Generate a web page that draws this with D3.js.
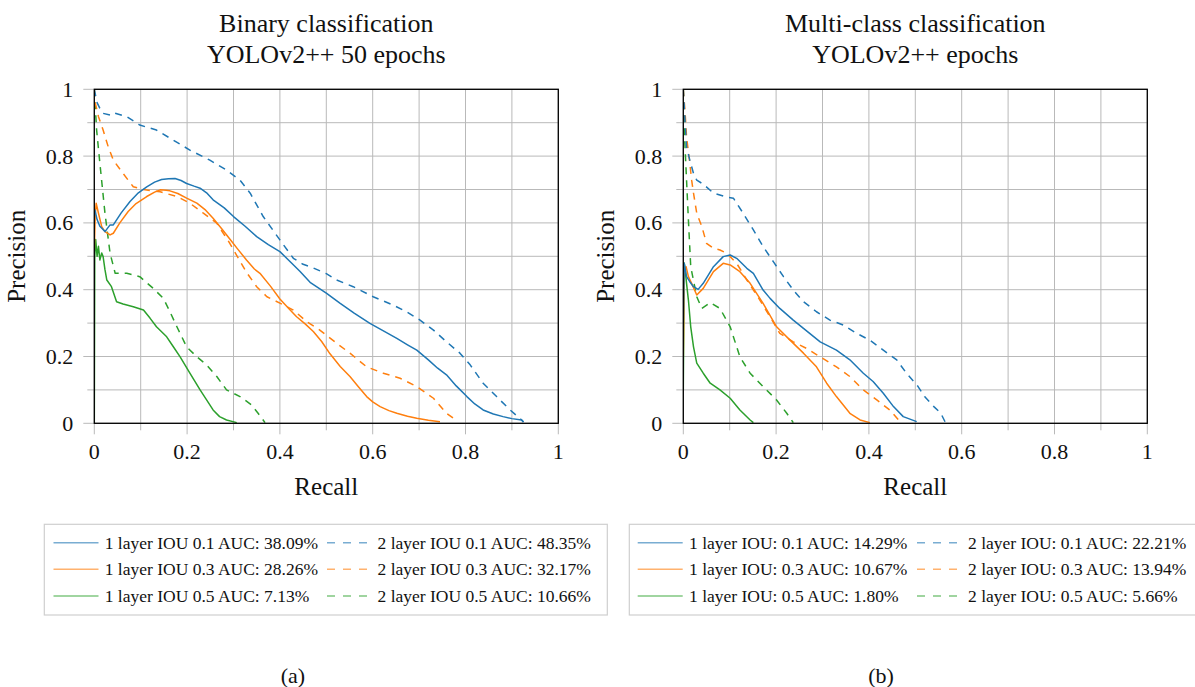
<!DOCTYPE html>
<html>
<head>
<meta charset="utf-8">
<script src="https://cdn.jsdelivr.net/npm/d3@7"></script>
<style>
  html, body { margin: 0; padding: 0; background: #fff; }
  svg { display: block; }
  text { font-family: "Liberation Serif", "Times New Roman", serif; fill: #111; }
</style>
</head>
<body>
<svg id="fig" width="1195" height="687"></svg>
<script>
// ---- Binary classification, YOLOv2++ 50 epochs: [recall, precision] ----
const bin1L_iou01 = [[0.001,0.64],[0.006,0.61],[0.012,0.59],[0.023,0.574],[0.034,0.594],[0.041,0.594],[0.058,0.63],[0.077,0.664],[0.095,0.69],[0.113,0.708],[0.13,0.722],[0.145,0.730],[0.16,0.732],[0.174,0.733],[0.187,0.727],[0.199,0.718],[0.215,0.71],[0.228,0.704],[0.242,0.69],[0.256,0.669],[0.28,0.645],[0.30,0.619],[0.325,0.59],[0.35,0.559],[0.375,0.535],[0.40,0.514],[0.425,0.48],[0.443,0.455],[0.465,0.422],[0.50,0.39],[0.53,0.359],[0.56,0.33],[0.594,0.299],[0.625,0.275],[0.652,0.254],[0.675,0.235],[0.695,0.219],[0.72,0.19],[0.74,0.165],[0.759,0.145],[0.78,0.112],[0.803,0.080],[0.82,0.058],[0.838,0.040],[0.86,0.028],[0.881,0.020],[0.90,0.014],[0.921,0.010],[0.925,0.004]];
const bin1L_iou03 = [[0,0.52],[0.002,0.62],[0.004,0.659],[0.009,0.629],[0.016,0.589],[0.023,0.574],[0.034,0.564],[0.041,0.569],[0.055,0.6],[0.073,0.634],[0.09,0.658],[0.113,0.679],[0.13,0.692],[0.142,0.699],[0.155,0.698],[0.163,0.696],[0.18,0.688],[0.199,0.674],[0.221,0.659],[0.24,0.638],[0.256,0.614],[0.275,0.582],[0.292,0.552],[0.31,0.52],[0.328,0.489],[0.345,0.462],[0.357,0.449],[0.38,0.41],[0.40,0.372],[0.42,0.342],[0.436,0.319],[0.455,0.297],[0.472,0.275],[0.49,0.245],[0.508,0.208],[0.53,0.17],[0.551,0.140],[0.57,0.108],[0.587,0.080],[0.60,0.064],[0.616,0.050],[0.635,0.038],[0.652,0.030],[0.675,0.021],[0.695,0.015],[0.72,0.009],[0.745,0.005]];
const bin1L_iou05 = [[0,0.0],[0.001,0.5],[0.003,0.55],[0.006,0.5],[0.009,0.53],[0.012,0.489],[0.016,0.51],[0.019,0.499],[0.023,0.46],[0.027,0.429],[0.037,0.409],[0.048,0.364],[0.062,0.357],[0.084,0.349],[0.106,0.339],[0.12,0.315],[0.134,0.289],[0.156,0.259],[0.17,0.23],[0.185,0.199],[0.206,0.150],[0.228,0.100],[0.256,0.040],[0.27,0.02],[0.285,0.010],[0.307,0.002]];
const bin2L_iou01 = [[0,1.0],[0.006,0.96],[0.012,0.943],[0.019,0.928],[0.034,0.923],[0.041,0.930],[0.07,0.918],[0.098,0.893],[0.134,0.878],[0.17,0.848],[0.206,0.818],[0.249,0.788],[0.285,0.758],[0.314,0.728],[0.336,0.689],[0.364,0.619],[0.40,0.549],[0.429,0.494],[0.45,0.476],[0.472,0.465],[0.50,0.448],[0.522,0.429],[0.558,0.409],[0.601,0.379],[0.644,0.354],[0.673,0.334],[0.702,0.309],[0.731,0.279],[0.759,0.244],[0.788,0.210],[0.81,0.175],[0.838,0.120],[0.867,0.080],[0.896,0.040],[0.921,0.010],[0.925,0.004]];
const bin2L_iou03 = [[0,1.0],[0.002,0.96],[0.009,0.918],[0.019,0.878],[0.030,0.828],[0.041,0.788],[0.062,0.748],[0.084,0.708],[0.106,0.700],[0.142,0.693],[0.178,0.679],[0.206,0.659],[0.235,0.629],[0.264,0.599],[0.292,0.539],[0.31,0.495],[0.328,0.452],[0.35,0.409],[0.372,0.379],[0.40,0.36],[0.429,0.339],[0.458,0.304],[0.486,0.279],[0.522,0.240],[0.551,0.210],[0.587,0.169],[0.623,0.150],[0.659,0.135],[0.695,0.110],[0.731,0.075],[0.759,0.030],[0.774,0.015],[0.777,0.002]];
const bin2L_iou05 = [[0,1.0],[0.002,0.95],[0.005,0.878],[0.012,0.779],[0.023,0.629],[0.034,0.509],[0.045,0.449],[0.07,0.449],[0.098,0.439],[0.127,0.404],[0.149,0.374],[0.163,0.334],[0.178,0.289],[0.199,0.229],[0.221,0.199],[0.242,0.175],[0.264,0.140],[0.285,0.100],[0.314,0.080],[0.339,0.055],[0.353,0.030],[0.368,0.002]];

// ---- Multi-class classification, YOLOv2++ epochs: [recall, precision] ----
const multi1L_iou01 = [[0,0.3],[0.002,0.479],[0.007,0.439],[0.014,0.424],[0.022,0.409],[0.032,0.401],[0.043,0.419],[0.065,0.469],[0.086,0.499],[0.101,0.504],[0.115,0.494],[0.137,0.464],[0.151,0.449],[0.172,0.399],[0.187,0.374],[0.208,0.344],[0.237,0.309],[0.259,0.284],[0.295,0.244],[0.33,0.219],[0.359,0.190],[0.388,0.150],[0.409,0.125],[0.431,0.090],[0.453,0.050],[0.474,0.020],[0.503,0.005]];
const multi1L_iou03 = [[0,0.2],[0.002,0.45],[0.006,0.469],[0.011,0.439],[0.018,0.419],[0.029,0.384],[0.043,0.404],[0.065,0.454],[0.086,0.479],[0.101,0.474],[0.122,0.454],[0.144,0.419],[0.172,0.359],[0.201,0.289],[0.23,0.249],[0.259,0.210],[0.287,0.169],[0.309,0.120],[0.33,0.080],[0.359,0.030],[0.381,0.010],[0.402,0.002]];
const multi1L_iou05 = [[0,0.1],[0.002,0.48],[0.004,0.46],[0.007,0.419],[0.011,0.369],[0.016,0.289],[0.022,0.229],[0.029,0.180],[0.043,0.150],[0.058,0.120],[0.079,0.100],[0.101,0.075],[0.122,0.040],[0.144,0.010],[0.151,0.002]];
const multi2L_iou01 = [[0,1.0],[0.004,0.9],[0.007,0.828],[0.014,0.788],[0.022,0.748],[0.029,0.728],[0.043,0.716],[0.065,0.689],[0.094,0.677],[0.108,0.674],[0.129,0.629],[0.151,0.579],[0.172,0.529],[0.194,0.484],[0.216,0.439],[0.237,0.399],[0.259,0.364],[0.287,0.334],[0.316,0.309],[0.345,0.294],[0.374,0.269],[0.402,0.249],[0.431,0.219],[0.46,0.190],[0.481,0.150],[0.506,0.110],[0.52,0.08],[0.54,0.05],[0.555,0.03],[0.565,0.002]];
const multi2L_iou03 = [[0,1.0],[0.004,0.928],[0.007,0.858],[0.014,0.779],[0.018,0.728],[0.022,0.689],[0.029,0.629],[0.04,0.589],[0.05,0.539],[0.065,0.524],[0.079,0.519],[0.094,0.509],[0.115,0.479],[0.137,0.429],[0.165,0.369],[0.187,0.319],[0.208,0.269],[0.237,0.244],[0.266,0.224],[0.295,0.199],[0.33,0.169],[0.359,0.140],[0.388,0.100],[0.417,0.070],[0.445,0.040],[0.467,0.005]];
const multi2L_iou05 = [[0,1.0],[0.003,0.85],[0.007,0.728],[0.011,0.609],[0.016,0.469],[0.029,0.379],[0.04,0.344],[0.058,0.361],[0.079,0.344],[0.101,0.289],[0.122,0.199],[0.144,0.150],[0.172,0.110],[0.201,0.070],[0.223,0.030],[0.237,0.002]];

// ---- Labels ----
const binaryTitle = ["Binary classification", "YOLOv2++ 50 epochs"];
const multiTitle = ["Multi-class classification", "YOLOv2++ epochs"];
const binaryLegend = ["1 layer IOU 0.1 AUC: 38.09%", "2 layer IOU 0.1 AUC: 48.35%",
                      "1 layer IOU 0.3 AUC: 28.26%", "2 layer IOU 0.3 AUC: 32.17%",
                      "1 layer IOU 0.5 AUC: 7.13%",  "2 layer IOU 0.5 AUC: 10.66%"];
const multiLegend = ["1 layer IOU: 0.1 AUC: 14.29%", "2 layer IOU: 0.1 AUC: 22.21%",
                     "1 layer IOU: 0.3 AUC: 10.67%", "2 layer IOU: 0.3 AUC: 13.94%",
                     "1 layer IOU: 0.5 AUC: 1.80%",  "2 layer IOU: 0.5 AUC: 5.66%"];
const majorTicks = [0, 0.2, 0.4, 0.6, 0.8, 1];
const minorTicks = [0.1, 0.3, 0.5, 0.7, 0.9];
const tickLabel = d => (d === 0 || d === 1) ? String(d) : d.toFixed(1);
const colors = ["#1f77b4", "#ff7f0e", "#2ca02c"];
const DASH = "7,6";

const svg = d3.select("#fig");

function panel(cfg) {
  const x = d3.scaleLinear().domain([0, 1]).range([cfg.left, cfg.left + 464]);
  const y = d3.scaleLinear().domain([0, 1]).range([423.3, 89.3]);
  const g = svg.append("g");
  const clipId = "clip-" + cfg.id;
  g.append("clipPath").attr("id", clipId).append("rect")
    .attr("x", x(0)).attr("y", y(1)).attr("width", x(1) - x(0)).attr("height", y(0) - y(1));

  // grid lines, extended outside the frame as tick marks
  const gridColor = "#b9b9b9";
  const all = majorTicks.concat(minorTicks);
  g.selectAll(".vg").data(all).join("line")
    .attr("x1", d => x(d)).attr("x2", d => x(d))
    .attr("y1", y(1)).attr("y2", d => y(0) + (majorTicks.includes(d) ? 11 : 7))
    .attr("stroke", gridColor).attr("stroke-width", 1);
  g.selectAll(".hg").data(all).join("line")
    .attr("y1", d => y(d)).attr("y2", d => y(d))
    .attr("x1", d => x(0) - (majorTicks.includes(d) ? 11 : 7)).attr("x2", x(1))
    .attr("stroke", gridColor).attr("stroke-width", 1);

  // tick labels
  g.selectAll(".xl").data(majorTicks).join("text")
    .attr("x", d => x(d)).attr("y", 459).attr("text-anchor", "middle")
    .attr("font-size", 22).text(tickLabel);
  g.selectAll(".yl").data(majorTicks).join("text")
    .attr("x", x(0) - 21).attr("y", d => y(d) + 7.5).attr("text-anchor", "end")
    .attr("font-size", 22).text(tickLabel);

  // curves
  const line = d3.line().x(d => x(d[0])).y(d => y(d[1]));
  const curves = g.append("g").attr("clip-path", `url(#${clipId})`);
  cfg.series.forEach((s, i) => {
    curves.append("path").datum(s.data)
      .attr("d", line).attr("fill", "none")
      .attr("stroke", colors[s.c]).attr("stroke-width", 1.5)
      .attr("stroke-linejoin", "round")
      .attr("stroke-dasharray", s.dashed ? DASH : null);
  });

  // frame
  g.append("rect").attr("x", x(0)).attr("y", y(1))
    .attr("width", x(1) - x(0)).attr("height", y(0) - y(1))
    .attr("fill", "none").attr("stroke", "#000").attr("stroke-width", 1.3);

  // axis labels
  g.append("text").attr("x", (x(0) + x(1)) / 2).attr("y", 495)
    .attr("text-anchor", "middle").attr("font-size", 25).text("Recall");
  g.append("text").attr("transform", `translate(${x(0) - 69},${(y(0) + y(1)) / 2}) rotate(-90)`)
    .attr("text-anchor", "middle").attr("font-size", 25).text("Precision");

  // title
  cfg.title.forEach((t, i) => {
    g.append("text").attr("x", (x(0) + x(1)) / 2).attr("y", 32 + i * 31)
      .attr("text-anchor", "middle").attr("font-size", 26).text(t);
  });

  // legend
  const L = cfg.legend;
  g.append("rect").attr("x", L.x).attr("y", 524.3).attr("width", L.w).attr("height", 90.7)
    .attr("fill", "#fff").attr("stroke", "#cfcfcf").attr("stroke-width", 1.2);
  const rows = [542.7, 569.3, 596];
  cfg.legendText.forEach((t, k) => {
    const row = Math.floor(k / 2), col = k % 2;
    const cy = rows[row];
    const sx = col === 0 ? L.s0 : L.s1;
    const sw = col === 0 ? 45 : 40;
    g.append("line").attr("x1", sx).attr("x2", sx + sw).attr("y1", cy).attr("y2", cy)
      .attr("stroke", colors[row]).attr("stroke-width", 1.6).attr("stroke-opacity", 0.6)
      .attr("stroke-dasharray", col === 1 ? "8,8" : null);
    g.append("text").attr("x", col === 0 ? L.t0 : L.t1).attr("y", cy + 6)
      .attr("font-size", 17.5).text(t);
  });

  // sub-caption
  g.append("text").attr("x", cfg.caption.x).attr("y", 683)
    .attr("text-anchor", "middle").attr("font-size", 22).text(cfg.caption.t);
}

panel({
  id: "binary", left: 94.3, title: binaryTitle, legendText: binaryLegend,
  legend: { x: 44.3, w: 563, s0: 53.5, t0: 104.7, s1: 327, t1: 377.5 },
  caption: { x: 293, t: "(a)" },
  series: [
    { data: bin1L_iou05, c: 2 }, { data: bin2L_iou05, c: 2, dashed: true },
    { data: bin1L_iou03, c: 1 }, { data: bin2L_iou03, c: 1, dashed: true },
    { data: bin1L_iou01, c: 0 }, { data: bin2L_iou01, c: 0, dashed: true }
  ]
});
panel({
  id: "multi", left: 683.3, title: multiTitle, legendText: multiLegend,
  legend: { x: 629.3, w: 575, s0: 637.7, t0: 689, s1: 917, t1: 968 },
  caption: { x: 881, t: "(b)" },
  series: [
    { data: multi1L_iou05, c: 2 }, { data: multi2L_iou05, c: 2, dashed: true },
    { data: multi1L_iou03, c: 1 }, { data: multi2L_iou03, c: 1, dashed: true },
    { data: multi1L_iou01, c: 0 }, { data: multi2L_iou01, c: 0, dashed: true }
  ]
});
</script>
</body>
</html>
